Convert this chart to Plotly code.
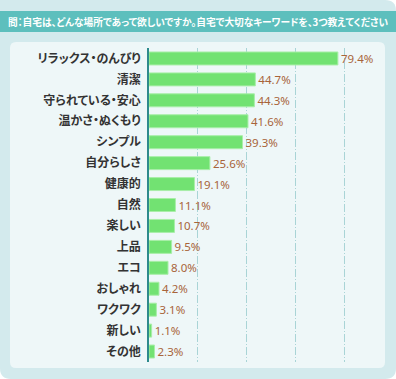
import plotly.graph_objects as go

categories = ["リラックス・のんびり", "清潔", "守られている・安心", "温かさ・ぬくもり", "シンプル",
              "自分らしさ", "健康的", "自然", "楽しい", "上品", "エコ", "おしゃれ", "ワクワク", "新しい", "その他"]
values = [79.4, 44.7, 44.3, 41.6, 39.3, 25.6, 19.1, 11.1, 10.7, 9.5, 8.0, 4.2, 3.1, 1.1, 2.3]
value_labels = [f"{v:.1f}%" for v in values]
grid_vals = [20.5, 41, 61.5, 82]
title_text = "問：自宅は、どんな場所であって欲しいですか。自宅で大切なキーワードを、3つ教えてください"

W, H = 396, 379

def px(x):
    return x / W

def py(y):
    return 1 - y / H

def rounded_rect(x0, y0, x1, y1, r, r_tl=None):
    rt = r if r_tl is None else r_tl
    path = (f"M {px(x0 + rt)},{py(y0)} L {px(x1 - r)},{py(y0)} "
            f"Q {px(x1)},{py(y0)} {px(x1)},{py(y0 + r)} "
            f"L {px(x1)},{py(y1 - r)} Q {px(x1)},{py(y1)} {px(x1 - r)},{py(y1)} "
            f"L {px(x0 + r)},{py(y1)} Q {px(x0)},{py(y1)} {px(x0)},{py(y1 - r)} "
            f"L {px(x0)},{py(y0 + rt)} Q {px(x0)},{py(y0)} {px(x0 + rt)},{py(y0)} Z")
    return path

jp = "Noto Sans CJK JP"

fig = go.Figure()
fig.add_trace(go.Bar(
    y=categories, x=values, orientation="h",
    marker=dict(color="#72e272", line=dict(color="#a8eea8", width=1)),
    text=value_labels, textposition="outside", cliponaxis=False, constraintext="none",
    textfont=dict(family="Noto Sans, " + jp, size=11.5, color="#a8643a"),
    width=0.62,
    hoverinfo="skip",
))

shapes = [
    dict(type="path", xref="paper", yref="paper", path=rounded_rect(0, 0, W, H, 11, r_tl=0),
         fillcolor="#d3eaed", line=dict(width=0), layer="below"),
    dict(type="rect", xref="paper", yref="paper", x0=0, x1=1, y0=py(32), y1=py(11),
         fillcolor="#5dbfbd", line=dict(width=0), layer="below"),
    dict(type="path", xref="paper", yref="paper", path=rounded_rect(10, 42, 385, 368, 6),
         fillcolor="#eef7f8", line=dict(width=0), layer="below"),
]

fig.update_layout(
    width=W, height=H,
    margin=dict(l=0, r=0, t=0, b=0),
    paper_bgcolor="white", plot_bgcolor="rgba(0,0,0,0)",
    showlegend=False,
    shapes=shapes,
    annotations=[dict(text=title_text, xref="paper", yref="paper", x=px(6), y=py(22),
                      xanchor="left", yanchor="middle", showarrow=False, align="left",
                      font=dict(family=jp, size=9.7, color="white", weight="bold"))],
    xaxis=dict(domain=[px(149), px(385)], range=[0, 99.2], tickvals=grid_vals,
               showticklabels=False, showgrid=True, gridcolor="#a9d4d6",
               griddash="8px,2px,1px,2px",
               gridwidth=1, zeroline=False, fixedrange=True),
    yaxis=dict(domain=[py(362), py(48)], autorange="reversed",
               showline=True, linecolor="#2e8a8c", linewidth=1.5,
               tickfont=dict(family=jp, size=12, color="#333333", weight="bold"),
               ticks="", ticklabelstandoff=4, showgrid=False, fixedrange=True),
    bargap=0.4,
)

post = ("document.body.style.margin='0';document.body.style.padding='0';"
        "var s=document.createElement('style');"
        "s.textContent='text{font-feature-settings:\"palt\" 1;}';"
        "document.head.appendChild(s);")

fig.write_html("out.html", config={"displayModeBar": False}, post_script=post)
